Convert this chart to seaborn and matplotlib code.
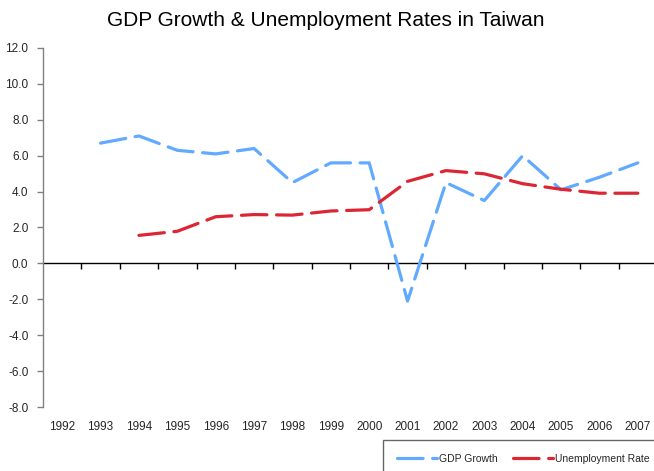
import matplotlib
matplotlib.use("Agg")
import matplotlib.pyplot as plt
from matplotlib.ticker import FixedLocator, NullFormatter, FormatStrFormatter
import numpy as np
import pandas as pd
import seaborn as sns

years = list(range(1992, 2008))
gdp_growth = [np.nan, 6.7, 7.1, 6.3, 6.1, 6.4, 4.5, 5.6, 5.6, -2.1,
              4.5, 3.5, 6.0, 4.1, 4.8, 5.6]
unemployment = [np.nan, np.nan, 1.56, 1.79, 2.60, 2.72, 2.69, 2.92, 2.99, 4.57,
                5.17, 4.99, 4.44, 4.13, 3.91, 3.91]
series_names = ["GDP Growth", "Unemployment Rate"]
colors = {"GDP Growth": "#62AAFF", "Unemployment Rate": "#DC2633"}

df = pd.DataFrame({"Year": years,
                   "GDP Growth": gdp_growth,
                   "Unemployment Rate": unemployment})
long_df = df.melt(id_vars="Year", var_name="Series", value_name="Rate").dropna()

sns.set_theme(style="white")
plt.rcParams["font.family"] = ["Liberation Sans", "DejaVu Sans"]

fig = plt.figure(figsize=(6.54, 4.71), dpi=100)
ax = fig.add_axes([43 / 654, 64 / 471, 614 / 654, 359 / 471])

lw = 2.3
sns.lineplot(data=long_df, x="Year", y="Rate", hue="Series", style="Series",
             hue_order=series_names, style_order=series_names,
             palette=colors, dashes={s: (8, 3) for s in series_names},
             linewidth=lw, ax=ax, legend=False)
for line in ax.lines:
    line.set_dash_capstyle("round")
    line.set_solid_capstyle("round")

ax.set_xlim(1991.5, 2007.5)
ax.set_ylim(-8, 12)
ax.set_xlabel("")
ax.set_ylabel("")

# y axis: grey spine, outward ticks, one decimal
ax.set_yticks(np.arange(-8, 13, 2))
ax.yaxis.set_major_formatter(FormatStrFormatter("%.1f"))
ax.tick_params(axis="y", which="major", direction="out", length=4, width=1,
               color="#808080", pad=6.5, labelsize=8.5, left=True)
for s in ["top", "right", "bottom"]:
    ax.spines[s].set_visible(False)
ax.spines["left"].set_color("#808080")
ax.spines["left"].set_linewidth(1)

# year labels along the bottom, no tick marks
ax.set_xticks(years)
ax.set_xticklabels([str(y) for y in years])
ax.tick_params(axis="x", which="major", length=0, pad=10, labelsize=8.5)

# zero line carrying the category boundary ticks
zero_axis = ax.secondary_xaxis(8 / 20)
zero_axis.xaxis.set_major_locator(FixedLocator(np.arange(1992.5, 2007.6, 1)))
zero_axis.xaxis.set_major_formatter(NullFormatter())
zero_axis.tick_params(axis="x", direction="out", length=4, width=1, color="black")
zero_axis.spines["bottom"].set_color("black")
zero_axis.spines["bottom"].set_linewidth(1)

fig.text(326 / 654, 1 - 20 / 471, "GDP Growth & Unemployment Rates in Taiwan",
         ha="center", va="center", fontsize=15, color="black")

handles = [plt.Line2D([], [], color=colors[s], linewidth=lw, dashes=(8, 3),
                      dash_capstyle="round") for s in series_names]
leg = fig.legend(handles, series_names, loc="upper left",
                 bbox_to_anchor=(383 / 654, 1 - 440 / 471), borderaxespad=0,
                 ncol=2, fontsize=7.5, frameon=True, fancybox=False,
                 handlelength=3.85, handletextpad=0.2, columnspacing=1.5,
                 borderpad=1.3)
leg.get_frame().set_edgecolor("#404040")
leg.get_frame().set_linewidth(1)

fig.savefig("out.png", dpi=100)
